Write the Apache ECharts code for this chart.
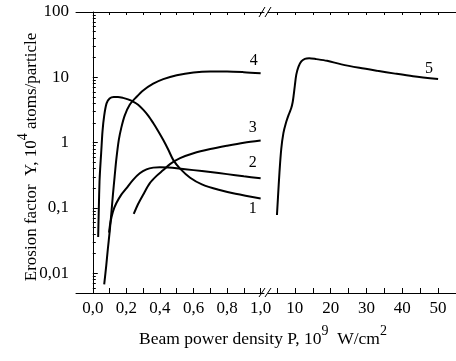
<!DOCTYPE html>
<html>
<head>
<meta charset="utf-8">
<script src="https://cdn.jsdelivr.net/npm/echarts@6/dist/echarts.min.js"></script>
<style>
  body { margin: 0; background: #fff; }
  #main { width: 456px; height: 361px; }
</style>
</head>
<body>
<div id="main"></div>
<script>
// curves 1-4, P in 10^9 W/cm2 (left part of the broken axis)
var curve1X = [0.032, 0.036, 0.040, 0.044, 0.050, 0.058, 0.068, 0.082, 0.10, 0.125, 0.15, 0.18, 0.21, 0.24, 0.27, 0.30, 0.33, 0.36, 0.39, 0.42, 0.45, 0.48, 0.52, 0.58, 0.65, 0.75, 0.85, 1.0];
var curve1Y = [0.036, 0.1, 0.25, 0.4, 0.7, 1.5, 2.6, 4.0, 4.75, 5.0, 5.0, 4.85, 4.6, 4.25, 3.8, 3.2, 2.6, 2.0, 1.5, 1.1, 0.78, 0.54, 0.4, 0.29, 0.23, 0.19, 0.165, 0.14];

var curve2X = [0.097, 0.105, 0.12, 0.14, 0.17, 0.2, 0.24, 0.28, 0.32, 0.36, 0.40, 0.45, 0.5, 0.6, 0.7, 0.8, 0.9, 1.0];
var curve2Y = [0.042, 0.06, 0.088, 0.118, 0.16, 0.2, 0.27, 0.34, 0.39, 0.415, 0.42, 0.415, 0.405, 0.38, 0.355, 0.33, 0.305, 0.285];

var curve3X = [0.244, 0.27, 0.3, 0.34, 0.38, 0.42, 0.46, 0.52, 0.6, 0.7, 0.8, 0.9, 1.0];
var curve3Y = [0.081, 0.115, 0.16, 0.24, 0.31, 0.38, 0.47, 0.58, 0.69, 0.8, 0.9, 1.0, 1.08];

var curve4X = [0.068, 0.08, 0.09, 0.1, 0.11, 0.12, 0.13, 0.14, 0.155, 0.17, 0.19, 0.22, 0.26, 0.3, 0.36, 0.42, 0.5, 0.6, 0.7, 0.8, 0.9, 1.0];
var curve4Y = [0.0068, 0.013, 0.024, 0.042, 0.08, 0.16, 0.3, 0.55, 1.1, 1.7, 2.6, 3.8, 5.0, 6.3, 8.0, 9.4, 10.8, 11.9, 12.3, 12.3, 12.0, 11.5];

// curve 5 (right part of the broken axis)
var curve5X = [5.0, 5.3, 5.7, 6.2, 6.8, 7.5, 8.3, 9.0, 9.4, 9.7, 10.0, 10.4, 11.0, 11.8, 12.8, 14.0, 16, 19, 23, 28, 33, 38, 43, 50];
var curve5Y = [0.078, 0.15, 0.35, 0.8, 1.4, 2.0, 2.7, 3.4, 4.2, 5.5, 7.5, 11, 14.5, 17.5, 19.2, 19.6, 19.0, 17.9, 15.8, 14.0, 12.6, 11.4, 10.4, 9.4];

// ticks and labels
var leftTicks = [0, 0.1, 0.2, 0.3, 0.4, 0.5, 0.6, 0.7, 0.8, 0.9, 1.0];
var leftLabels = [0, 0.2, 0.4, 0.6, 0.8, 1.0];
var rightTicks = [5, 10, 15, 20, 25, 30, 35, 40, 45, 50];
var rightLabels = [10, 20, 30, 40, 50];
var yLabels = [0.01, 0.1, 1, 10, 100];
var yMinorTicks = [0.006, 0.007, 0.008, 0.009,
  0.02, 0.03, 0.04, 0.05, 0.06, 0.07, 0.08, 0.09,
  0.2, 0.3, 0.4, 0.5, 0.6, 0.7, 0.8, 0.9,
  2, 3, 4, 5, 6, 7, 8, 9,
  20, 30, 40, 50, 60, 70, 80, 90];

var FONT = 'Liberation Serif';

function pairs(xs, ys) {
  return xs.map(function (x, i) { return [x, ys[i]]; });
}

// put the curve number near the last point
function withLabel(xs, ys, text, pos, offset) {
  var d = pairs(xs, ys);
  var last = d.length - 1;
  d[last] = {
    value: d[last],
    label: {
      show: true, formatter: text, position: pos, offset: offset,
      fontFamily: FONT, fontSize: 16, color: '#000'
    }
  };
  return d;
}

function comma(v) {
  return String(v).replace('.', ',');
}

var axisLine = { lineStyle: { color: '#000', width: 1 } };

function xAxisOf(grid, pos, min, max, ticks, labels, fmt) {
  return {
    type: 'value', gridIndex: grid, position: pos, min: min, max: max,
    axisLine: axisLine,
    splitLine: { show: false },
    axisTick: {
      inside: true, length: pos == 'bottom' ? 5 : 3,
      customValues: ticks, lineStyle: { color: '#000' }
    },
    axisLabel: labels ? {
      customValues: labels, formatter: fmt, margin: 7,
      fontFamily: FONT, fontSize: 17, color: '#000'
    } : { show: false }
  };
}

var lineStyle = { color: '#000', width: 2 };

var myChart = echarts.init(document.getElementById('main'));
var option = {
  animation: false,
  grid: [
    { left: 76, top: 12, width: 188, height: 281 },
    { left: 268, top: 12, width: 188, height: 281 }
  ],
  xAxis: [
    xAxisOf(0, 'bottom', -0.1, 1.02, leftTicks, leftLabels, function (v) { return v.toFixed(1).replace('.', ','); }),
    xAxisOf(0, 'top', -0.1, 1.02, leftTicks, null),
    xAxisOf(1, 'bottom', 2.5, 55, rightTicks, rightLabels, function (v) { return String(v); }),
    xAxisOf(1, 'top', 2.5, 55, rightTicks, null)
  ],
  yAxis: [
    {
      type: 'log', gridIndex: 0, min: 0.005, max: 100,
      axisLine: axisLine,
      splitLine: { show: false },
      axisTick: { inside: true, length: 5, customValues: yLabels, lineStyle: { color: '#000' } },
      axisLabel: {
        customValues: yLabels, formatter: comma, margin: 7,
        fontFamily: FONT, fontSize: 17, color: '#000'
      }
    },
    {
      // minor log ticks
      type: 'log', gridIndex: 0, min: 0.005, max: 100, position: 'left',
      axisLine: { show: false },
      splitLine: { show: false },
      axisTick: { inside: true, length: 3, customValues: yMinorTicks, lineStyle: { color: '#000' } },
      axisLabel: { show: false }
    },
    { type: 'log', gridIndex: 1, min: 0.005, max: 100, show: false }
  ],
  series: [
    { type: 'line', xAxisIndex: 0, yAxisIndex: 0, data: withLabel(curve1X, curve1Y, '1', 'bottom', [-8, -3]) },
    { type: 'line', xAxisIndex: 0, yAxisIndex: 0, data: withLabel(curve2X, curve2Y, '2', 'top', [-8, -2]) },
    { type: 'line', xAxisIndex: 0, yAxisIndex: 0, data: withLabel(curve3X, curve3Y, '3', 'top', [-8, 0]) },
    { type: 'line', xAxisIndex: 0, yAxisIndex: 0, data: withLabel(curve4X, curve4Y, '4', 'top', [-7, 0]) },
    { type: 'line', xAxisIndex: 2, yAxisIndex: 2, data: withLabel(curve5X, curve5Y, '5', 'top', [-9, 3]) }
  ].map(function (s) {
    s.smooth = 0.3;
    // invisible symbols so the curve numbers can still be shown
    s.showSymbol = true;
    s.symbol = 'circle';
    s.symbolSize = 0;
    s.lineStyle = lineStyle;
    s.silent = true;
    return s;
  }),
  graphic: [
    // axis break marks
    { type: 'line', shape: { x1: 259, y1: 297, x2: 265, y2: 288 }, style: { stroke: '#000', lineWidth: 1 } },
    { type: 'line', shape: { x1: 265, y1: 297, x2: 271, y2: 288 }, style: { stroke: '#000', lineWidth: 1 } },
    { type: 'line', shape: { x1: 259, y1: 17, x2: 265, y2: 7 }, style: { stroke: '#000', lineWidth: 1 } },
    { type: 'line', shape: { x1: 265, y1: 17, x2: 271, y2: 7 }, style: { stroke: '#000', lineWidth: 1 } },
    {
      type: 'text', x: 263, y: 336,
      style: {
        text: '{n|Beam power density P, 10}{s|9}{n|  W/cm}{s|2}',
        align: 'center', verticalAlign: 'middle',
        rich: {
          n: { fontFamily: FONT, fontSize: 17.5, fill: '#000', verticalAlign: 'bottom', lineHeight: 24 },
          s: { fontFamily: FONT, fontSize: 14, fill: '#000', verticalAlign: 'top', lineHeight: 24 }
        }
      }
    },
    {
      type: 'text', x: 28, y: 157, rotation: Math.PI / 2,
      style: {
        text: '{n|Erosion factor  Y, 10}{s|4}{n| atoms/particle}',
        align: 'center', verticalAlign: 'middle',
        rich: {
          n: { fontFamily: FONT, fontSize: 17, fill: '#000', verticalAlign: 'bottom', lineHeight: 24 },
          s: { fontFamily: FONT, fontSize: 14, fill: '#000', verticalAlign: 'top', lineHeight: 24 }
        }
      }
    }
  ]
};
myChart.setOption(option);
</script>
</body>
</html>
